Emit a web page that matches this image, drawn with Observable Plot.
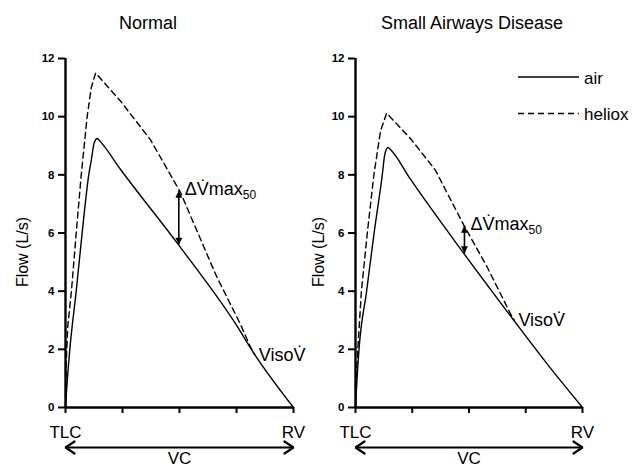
<!DOCTYPE html>
<html>
<head>
<meta charset="utf-8">
<script src="https://cdn.jsdelivr.net/npm/d3@7"></script>
<script src="https://cdn.jsdelivr.net/npm/@observablehq/plot@0.6"></script>
<style>
  html, body { margin: 0; padding: 0; background: #fff; }
  body { font-family: "Liberation Sans", Arial, sans-serif; color: #000; }
  #wrap { position: relative; width: 638px; height: 467px; overflow: hidden; }
  .panel { position: absolute; top: 0; }
  .panel text { fill: #000; }
  .panel g[aria-label="y-axis tick label"] { font-weight: bold; }
  .title { position: absolute; top: 14px; font-size: 18px; line-height: 18px; white-space: nowrap; transform: translateX(-50%); color: #000; }
  #legend { position: absolute; left: 0; top: 0; }
</style>
</head>
<body>
<div id="wrap"></div>
<script>
// ---- data ----
const vcTicks = [0, 25, 50, 75, 100];
const vcTickLabels = ["TLC", "", "", "", "RV"];
const flowTicks = [0, 2, 4, 6, 8, 10, 12];
const panelTitles = ["Normal", "Small Airways Disease"];
const seriesNames = ["air", "heliox"];
const yLabel = "Flow (L/s)";
const vcLabel = "VC";
const deltaLabel = "\u0394V\u0307max";
const deltaSub = "50";
const isoLabel = "VisoV\u0307";

// Normal
const normalAirVC   = [0, 0.4, 1.9, 4.7, 7.3, 10.2, 11.3, 12.6, 13.9, 15.2, 24, 49.5, 74, 83, 100];
const normalAirFlow = [0, 0.5, 2.0, 4.0, 6.0, 8.0, 8.5, 9.1, 9.25, 9.15, 8.2, 5.6, 2.95, 1.82, 0];
const normalHelioxVC   = [0, 0.3, 1.0, 2.6, 4.7, 6.9, 9.5, 11.3, 13.2, 24, 37.3, 50.4, 66, 76.8, 81, 83];
const normalHelioxFlow = [0, 1.5, 2.8, 4.0, 6.0, 8.0, 10.0, 11.0, 11.5, 10.55, 9.2, 7.4, 4.55, 2.85, 2.1, 1.82];
// Small airways disease
const sadAirVC   = [0, 0.4, 1.5, 4.9, 8.2, 11.8, 12.9, 14.3, 15.6, 24.2, 47.7, 69.7, 84.4, 100];
const sadAirFlow = [0, 0.6, 1.95, 4.0, 6.0, 8.0, 8.7, 8.94, 8.85, 7.85, 5.3, 3.0, 1.5, 0];
const sadHelioxVC   = [0, 0.4, 1.0, 2.6, 5.2, 8.1, 11.0, 13.7, 24.2, 35.2, 47.7, 58, 68.3, 70];
const sadHelioxFlow = [0, 1.0, 2.0, 4.0, 6.0, 8.0, 9.5, 10.12, 9.25, 8.16, 6.27, 4.83, 3.22, 3.0];

// annotations: delta Vmax50 arrow and isoflow point (per panel)
const deltaVC = [49.7, 48.0];
const deltaAir = [5.6, 5.3];
const deltaHeliox = [7.45, 6.25];
const isoVC = [83, 70];
const isoFlow = [1.82, 3.0];

// ---- drawing ----
const FONT = '"Liberation Sans", Arial, sans-serif';
const zip = (xs, ys) => xs.map((v, i) => ({vc: v, flow: ys[i]}));

function triangle(color) {
  const m = d3.create("svg:marker")
    .attr("viewBox", "-8 -5 10 10")
    .attr("markerWidth", 10).attr("markerHeight", 10)
    .attr("markerUnits", "userSpaceOnUse")
    .attr("orient", "auto-start-reverse")
    .attr("refX", 0).attr("refY", 0);
  m.append("path").attr("d", "M-7,-3.5L0,0L-7,3.5Z").attr("fill", color).attr("stroke", "none");
  return m.node();
}
function chevron(color) {
  const m = d3.create("svg:marker")
    .attr("viewBox", "-12 -8 14 16")
    .attr("markerWidth", 14).attr("markerHeight", 16)
    .attr("markerUnits", "userSpaceOnUse")
    .attr("orient", "auto-start-reverse")
    .attr("refX", 0).attr("refY", 0);
  m.append("path").attr("d", "M-9,-6L0,0L-9,6").attr("fill", "none")
    .attr("stroke", color).attr("stroke-width", 2.2)
    .attr("stroke-linecap", "round").attr("stroke-linejoin", "miter");
  return m.node();
}

const vcMin = vcTicks[0], vcMax = vcTicks[vcTicks.length - 1];
const fMin = flowTicks[0], fMax = flowTicks[flowTicks.length - 1];

function panel({air, heliox, k, width, marginLeft, marginRight, yLabelDx}) {
  const delta = {vc: deltaVC[k], lo: deltaAir[k], hi: deltaHeliox[k]};
  const iso = {vc: isoVC[k], flow: isoFlow[k]};
  const svg = Plot.plot({
    width, height: 467,
    marginTop: 58, marginBottom: 60, marginLeft, marginRight,
    style: {background: "transparent", color: "black", fontFamily: FONT, overflow: "visible"},
    x: {domain: [vcMin, vcMax], axis: null},
    y: {domain: [fMin, fMax], axis: null},
    marks: [
      Plot.axisY({ticks: flowTicks, tickSize: 7, tickPadding: 4, fontSize: 11.5, fontWeight: "bold", strokeWidth: 2, label: null}),
      Plot.axisX({ticks: vcTicks, tickFormat: (d) => vcTickLabels[vcTicks.indexOf(d)], tickSize: 6, tickPadding: 12, fontSize: 17, strokeWidth: 2, label: null}),
      Plot.ruleX([vcMin], {y1: fMin, y2: fMax, strokeWidth: 2.4}),
      Plot.ruleY([fMin], {x1: vcMin, x2: vcMax, strokeWidth: 2.4}),
      Plot.line(air, {x: "vc", y: "flow", strokeWidth: 1.4, curve: "monotone-x"}),
      Plot.line(heliox, {x: "vc", y: "flow", strokeWidth: 1.4, strokeDasharray: "6,4"}),
      Plot.link([delta], {x1: "vc", x2: "vc", y1: "lo", y2: "hi", strokeWidth: 1.6, markerStart: triangle, markerEnd: triangle}),
      Plot.text([delta], {x: "vc", y: "hi", text: () => deltaLabel, textAnchor: "start", lineAnchor: "bottom", dx: 6, dy: 4, fontSize: 18, fill: "black"}),
      Plot.text([iso], {x: "vc", y: "flow", text: () => isoLabel, textAnchor: "start", lineAnchor: "bottom", dx: 4, dy: 6, fontSize: 18, fill: "black"}),
      Plot.link([{a: vcMin, b: vcMax}], {x1: "a", x2: "b", y1: () => fMin, y2: () => fMin, dy: 40, strokeWidth: 2.2, markerStart: chevron, markerEnd: chevron}),
      Plot.text([vcLabel], {x: () => (vcMin + vcMax) / 2, y: () => fMin, text: (d) => d, lineAnchor: "bottom", dy: 56, fontSize: 17, fill: "black"}),
      Plot.text([yLabel], {frameAnchor: "left", text: (d) => d, rotate: -90, textAnchor: "middle", lineAnchor: "middle", dx: yLabelDx, dy: 19, fontSize: 16, fill: "black"})
    ]
  });
  // subscript for ΔV̇max50
  svg.querySelectorAll("text").forEach((t) => {
    if (t.textContent === deltaLabel) {
      const ts = document.createElementNS("http://www.w3.org/2000/svg", "tspan");
      ts.setAttribute("dy", "4");
      ts.setAttribute("font-size", "12");
      ts.textContent = deltaSub;
      t.appendChild(ts);
    }
  });
  return svg;
}

const wrap = document.getElementById("wrap");

const left = panel({air: zip(normalAirVC, normalAirFlow), heliox: zip(normalHelioxVC, normalHelioxFlow), k: 0,
  width: 310, marginLeft: 65, marginRight: 17, yLabelDx: -43});
left.classList.add("panel"); left.style.left = "0px";
wrap.appendChild(left);

const right = panel({air: zip(sadAirVC, sadAirFlow), heliox: zip(sadHelioxVC, sadHelioxFlow), k: 1,
  width: 338, marginLeft: 55, marginRight: 56, yLabelDx: -37});
right.classList.add("panel"); right.style.left = "300px";
wrap.appendChild(right);

// titles
const titleCenters = [148, 472];
panelTitles.forEach((t, i) => {
  const d = document.createElement("div");
  d.className = "title"; d.textContent = t; d.style.left = titleCenters[i] + "px";
  wrap.appendChild(d);
});

// legend
const lg = d3.select(wrap).append("svg").attr("id", "legend").attr("width", 638).attr("height", 467)
  .style("font-family", FONT);
const legendY = [77, 113.5];
seriesNames.forEach((name, i) => {
  lg.append("line").attr("x1", 518).attr("x2", 579).attr("y1", legendY[i]).attr("y2", legendY[i])
    .attr("stroke", "black").attr("stroke-width", 1.4)
    .attr("stroke-dasharray", i === 1 ? "6,4" : null);
  lg.append("text").attr("x", 584).attr("y", legendY[i] + 6.5).attr("font-size", 17).attr("fill", "black").text(name);
});
</script>
</body>
</html>
